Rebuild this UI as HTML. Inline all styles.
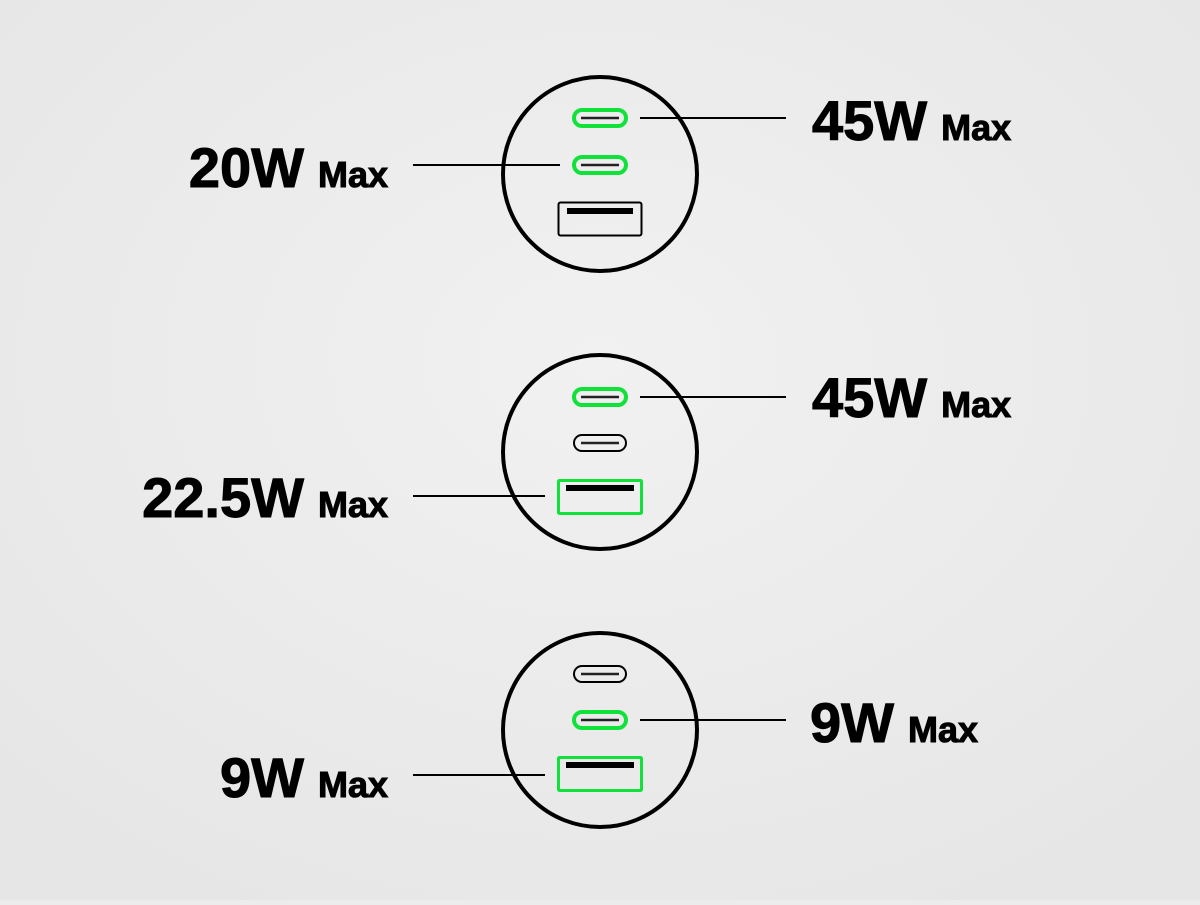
<!DOCTYPE html>
<html><head><meta charset="utf-8"><style>
html,body{margin:0;padding:0}
body{width:1200px;height:900px;background:#ececec;overflow:hidden}
</style></head><body>
<svg width="1200" height="900" xmlns="http://www.w3.org/2000/svg" font-family="Liberation Sans, sans-serif" font-weight="bold" fill="#000">
<defs>
<radialGradient id="bg" cx="50%" cy="40%" r="70%"><stop offset="0" stop-color="#f1f1f1"/><stop offset="1" stop-color="#e6e6e6"/></radialGradient>
</defs>
<rect width="1200" height="900" fill="url(#bg)"/>
<g stroke="#000" fill="none">
<circle cx="600" cy="174" r="97" stroke-width="4"/>
<circle cx="600" cy="452" r="97" stroke-width="4"/>
<circle cx="600" cy="730" r="97" stroke-width="4"/>
<g stroke-width="2">
<line x1="640" y1="118" x2="786" y2="118"/>
<line x1="413" y1="165" x2="560" y2="165"/>
<line x1="640" y1="397" x2="786" y2="397"/>
<line x1="413" y1="496" x2="545" y2="496"/>
<line x1="640" y1="720" x2="786" y2="720"/>
<line x1="413" y1="775" x2="545" y2="775"/>
</g>
</g>
<g fill="none">
<rect x="574" y="110" width="52" height="16" rx="8" stroke="#10e23a" stroke-width="4"/>
<rect x="574" y="157" width="52" height="16" rx="8" stroke="#10e23a" stroke-width="4"/>
<rect x="558.5" y="202.5" width="83" height="33" rx="2" stroke="#000" stroke-width="2"/>
<rect x="574" y="389" width="52" height="16" rx="8" stroke="#10e23a" stroke-width="4"/>
<rect x="574" y="435" width="52" height="16" rx="8" stroke="#000" stroke-width="2"/>
<rect x="558.5" y="480.5" width="83" height="33" rx="1" stroke="#10e23a" stroke-width="3"/>
<rect x="574" y="666" width="52" height="16" rx="8" stroke="#000" stroke-width="2"/>
<rect x="574" y="712" width="52" height="16" rx="8" stroke="#10e23a" stroke-width="4"/>
<rect x="558.5" y="757.5" width="83" height="33" rx="1" stroke="#10e23a" stroke-width="3"/>
</g>
<g stroke="#222" stroke-width="2.5">
<line x1="581" y1="118" x2="619" y2="118"/>
<line x1="581" y1="165" x2="619" y2="165"/>
<line x1="581" y1="397" x2="619" y2="397"/>
<line x1="581" y1="443" x2="619" y2="443"/>
<line x1="581" y1="674" x2="619" y2="674"/>
<line x1="581" y1="720" x2="619" y2="720"/>
</g>
<rect x="567" y="208" width="66" height="6"/>
<rect x="566" y="485" width="68" height="6"/>
<rect x="566" y="762" width="68" height="6"/>
<g stroke="#000" stroke-width="1">
<text x="812" y="140" font-size="56">45W<tspan dx="14" font-size="36">Max</tspan></text>
<text x="812" y="417" font-size="56">45W<tspan dx="14" font-size="36">Max</tspan></text>
<text x="810" y="742" font-size="56">9W<tspan dx="14" font-size="36">Max</tspan></text>
<text x="388" y="187" font-size="56" text-anchor="end">20W<tspan dx="14" font-size="36">Max</tspan></text>
<text x="388" y="517" font-size="56" text-anchor="end">22.5W<tspan dx="14" font-size="36">Max</tspan></text>
<text x="388" y="797" font-size="56" text-anchor="end">9W<tspan dx="14" font-size="36">Max</tspan></text>
</g>
</svg>
</body></html>
